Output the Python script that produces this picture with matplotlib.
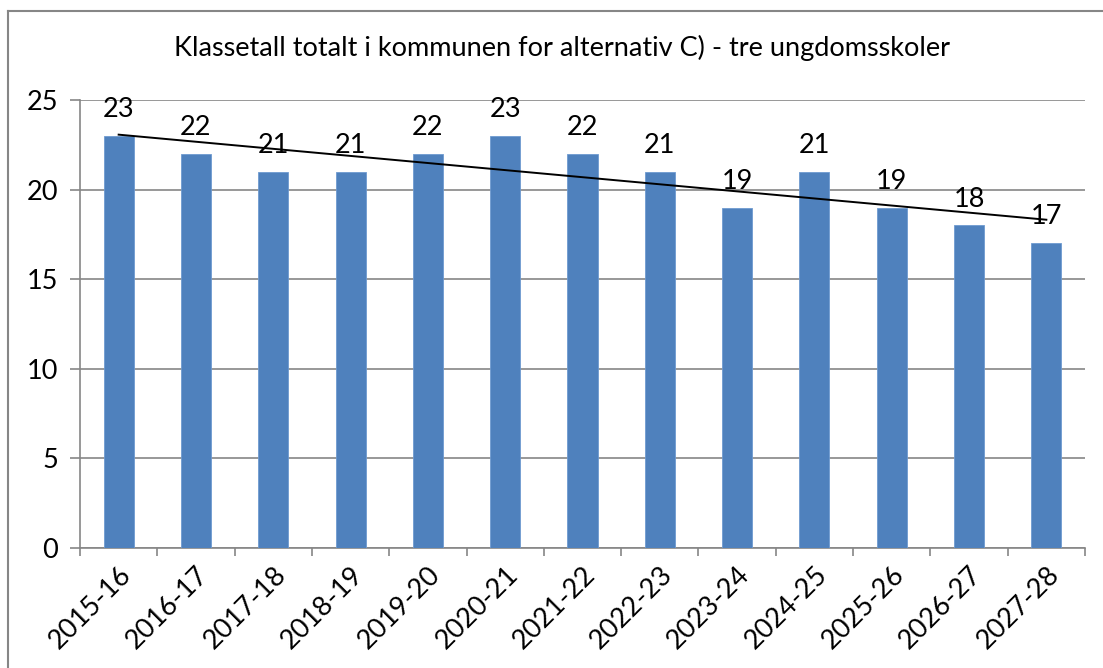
import matplotlib
matplotlib.use("Agg")
import matplotlib.pyplot as plt
import numpy as np
from matplotlib.lines import Line2D

title = "Klassetall totalt i kommunen for alternativ C) - tre ungdomsskoler"
categories = ["2015-16", "2016-17", "2017-18", "2018-19", "2019-20", "2020-21",
              "2021-22", "2022-23", "2023-24", "2024-25", "2025-26", "2026-27", "2027-28"]
values = [23, 22, 21, 21, 22, 23, 22, 21, 19, 21, 19, 18, 17]
yticks = [0, 5, 10, 15, 20, 25]

plt.rcParams['font.family'] = ['Lato', 'DejaVu Sans']
FS = 19.5

W, H = 1103, 668
fig = plt.figure(figsize=(W / 100, H / 100), dpi=100)
ax = fig.add_axes([80 / W, 1 - 548 / H, (1085 - 80) / W, (548 - 100) / H])

x = np.arange(len(categories))
bars = ax.bar(x, values, width=0.39, color="#4F81BD", edgecolor="#6E9AD0", linewidth=0.6, zorder=3)

# linear trendline
coef = np.polyfit(x, values, 1)
ax.plot(x, np.polyval(coef, x), color="black", lw=1.4, zorder=4)

for xi, v in zip(x, values):
    ax.annotate(str(v), (xi, v), xytext=(0, 10), textcoords="offset points",
                ha="center", va="bottom", fontsize=FS, color="black", zorder=5)

ax.set_xlim(-0.5, len(categories) - 0.5)
ax.set_ylim(0, 25)
ax.set_yticks(yticks)
ax.set_yticklabels([str(t) for t in yticks], fontsize=FS)
ax.yaxis.grid(True, color="#868686", lw=1.2, zorder=0)
ax.set_axisbelow(True)

ax.set_xticks(np.arange(-0.5, len(categories), 1.0))
ax.set_xticklabels([])
ax.set_xticks(x, minor=True)
ax.set_xticklabels(categories, minor=True, rotation=45, ha="right", rotation_mode="anchor",
                   fontsize=FS)
ax.tick_params(axis="x", which="minor", length=0, pad=10)
ax.tick_params(axis="x", which="major", length=6, width=1.2, color="#868686")
ax.tick_params(axis="y", length=7, width=1.2, color="#868686", pad=9)

for s in ["top", "right"]:
    ax.spines[s].set_visible(False)
for s in ["left", "bottom"]:
    ax.spines[s].set_color("#868686")
    ax.spines[s].set_linewidth(1.2)

fig.text(562 / W, 1 - 48 / H, title, ha="center", va="center", fontsize=FS)

# outer chart border (left and top visible)
fig.add_artist(Line2D([8 / W, 8 / W], [0, 1 - 11 / H], transform=fig.transFigure,
                      color="#868686", lw=1.5))
fig.add_artist(Line2D([8 / W, 1], [1 - 11 / H, 1 - 11 / H], transform=fig.transFigure,
                      color="#868686", lw=1.5))

fig.savefig("out.png", dpi=100)
